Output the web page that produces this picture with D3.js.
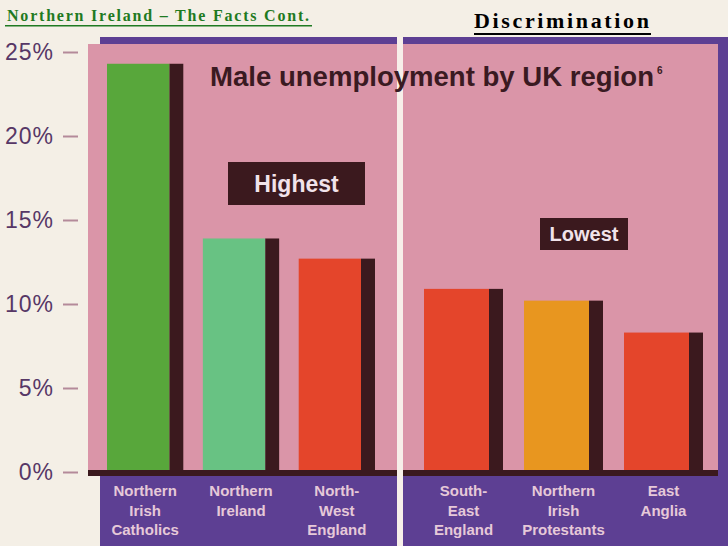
<!DOCTYPE html>
<html>
<head>
<meta charset="utf-8">
<script src="https://cdn.jsdelivr.net/npm/d3@7"></script>
<style>
  body { margin: 0; background: #f4efe6; }
  svg { display: block; }
</style>
</head>
<body>
<div id="my_dataviz"></div>
<script>
// data
const highestRegions = ["Northern Irish Catholics", "Northern Ireland", "North-West England"];
const highestValues = [24.3, 13.9, 12.7];
const highestColors = ["#58a73b", "#68c283", "#e4452b"];

const lowestRegions = ["South-East England", "Northern Irish Protestants", "East Anglia"];
const lowestValues = [10.9, 10.2, 8.3];
const lowestColors = ["#e4452b", "#e8961f", "#e4452b"];

const yTicks = [0, 5, 10, 15, 20, 25];

const width = 728, height = 546;

const svg = d3.select("#my_dataviz")
    .append("svg")
    .attr("width", width)
    .attr("height", height);

// header texts
svg.append("text")
    .text("Northern Ireland \u2013 The Facts Cont.")
    .attr("x", 7).attr("y", 21)
    .attr("textLength", 302)
    .style("font-family", "'Liberation Serif', 'Times New Roman', serif")
    .style("font-weight", "bold")
    .style("font-size", "16px")
    .style("fill", "#1f7a22");
svg.append("rect").attr("x", 5).attr("y", 25).attr("width", 307).attr("height", 1.5).style("fill", "#1f7a22");

svg.append("text")
    .text("Discrimination")
    .attr("x", 474).attr("y", 28)
    .attr("textLength", 175)
    .style("font-family", "'Liberation Serif', 'Times New Roman', serif")
    .style("font-weight", "bold")
    .style("font-size", "22px")
    .style("fill", "#000");
svg.append("rect").attr("x", 474).attr("y", 33).attr("width", 177).attr("height", 2).style("fill", "#000");

// purple frame + pink panel
svg.append("rect").attr("x", 100).attr("y", 37).attr("width", 628).attr("height", 509).style("fill", "#5d3f93");
svg.append("rect").attr("x", 88).attr("y", 44).attr("width", 630).attr("height", 430).style("fill", "#da95a8");

const y = d3.scaleLinear()
    .domain([0, 25])
    .range([472, 52]);

// y axis
const yAxis = svg.append("g")
    .attr("transform", "translate(78,0)")
    .call(d3.axisLeft(y).tickValues(yTicks).tickFormat(d => d + "%").tickSize(15).tickPadding(9));
yAxis.select(".domain").remove();
yAxis.selectAll("line").style("stroke", "#b48a9a").style("stroke-width", 2);
yAxis.selectAll("text")
    .style("font-family", "'Liberation Sans', Arial, sans-serif")
    .style("font-size", "23px")
    .style("letter-spacing", "1px")
    .style("fill", "#573766");

const shadow = 14;
const panels = [
  { regions: highestRegions, values: highestValues, colors: highestColors, range: [107, 361] },
  { regions: lowestRegions, values: lowestValues, colors: lowestColors, range: [424, 689] }
];

panels.forEach(function (p) {
  const x = d3.scaleBand()
      .domain(p.regions)
      .range(p.range)
      .paddingInner(0.35);
  const bw = x.bandwidth();
  const data = p.regions.map((r, i) => ({ region: r, value: p.values[i], color: p.colors[i] }));

  const g = svg.append("g");
  // dark shadow at right of each bar
  g.selectAll("rect.shadow")
      .data(data).enter()
      .append("rect")
      .attr("class", "shadow")
      .attr("x", d => x(d.region) + bw)
      .attr("y", d => y(d.value))
      .attr("width", shadow)
      .attr("height", d => y(0) - y(d.value))
      .style("fill", "#3b191e");
  g.selectAll("rect.bar")
      .data(data).enter()
      .append("rect")
      .attr("class", "bar")
      .attr("x", d => x(d.region))
      .attr("y", d => y(d.value))
      .attr("width", bw)
      .attr("height", d => y(0) - y(d.value))
      .style("fill", d => d.color);

  // labels in the purple band
  const lbl = g.selectAll("text.lbl")
      .data(data).enter()
      .append("text")
      .attr("class", "lbl")
      .attr("text-anchor", "middle")
      .style("font-family", "'Liberation Sans', Arial, sans-serif")
      .style("font-weight", "bold")
      .style("font-size", "15px")
      .style("fill", "#e6c9d8");
  lbl.each(function (d) {
    const words = d.region.replace(/-/g, "- ").split(" ");
    const cx = x(d.region) + (bw + shadow) / 2;
    d3.select(this).selectAll("tspan")
        .data(words).enter()
        .append("tspan")
        .attr("x", cx)
        .attr("y", (w, i) => 496 + i * 19.5)
        .text(w => w);
  });
});

// dark baseline
svg.append("rect").attr("x", 88).attr("y", y(0) - 2).attr("width", 630).attr("height", 6).style("fill", "#3b191e");

// white divider
svg.append("rect").attr("x", 397).attr("y", 37).attr("width", 6).attr("height", 509).style("fill", "#f7efe9");

// chart title
svg.append("text")
    .attr("x", 210).attr("y", 86)
    .attr("textLength", 444)
    .attr("lengthAdjust", "spacingAndGlyphs")
    .style("font-family", "'Liberation Sans', Arial, sans-serif")
    .style("font-weight", "bold")
    .style("font-size", "27px")
    .style("fill", "#3a1a22")
    .text("Male unemployment by UK region");
svg.append("text")
    .attr("x", 657).attr("y", 74)
    .style("font-family", "'Liberation Sans', Arial, sans-serif")
    .style("font-weight", "bold")
    .style("font-size", "10px")
    .style("fill", "#3a1a22")
    .text("6");

// Highest / Lowest boxes
const boxes = [
  { label: "Highest", x: 228, y: 162, w: 137, h: 43, fs: 23 },
  { label: "Lowest", x: 540, y: 218, w: 88, h: 32, fs: 20 }
];
boxes.forEach(function (b) {
  svg.append("rect").attr("x", b.x).attr("y", b.y).attr("width", b.w).attr("height", b.h).style("fill", "#3b191e");
  svg.append("text")
      .text(b.label)
      .attr("x", b.x + b.w / 2)
      .attr("y", b.y + b.h / 2 + b.fs * 0.36)
      .attr("text-anchor", "middle")
      .style("font-family", "'Liberation Sans', Arial, sans-serif")
      .style("font-weight", "bold")
      .style("font-size", b.fs + "px")
      .style("fill", "#f1e3ea");
});
</script>
</body>
</html>
